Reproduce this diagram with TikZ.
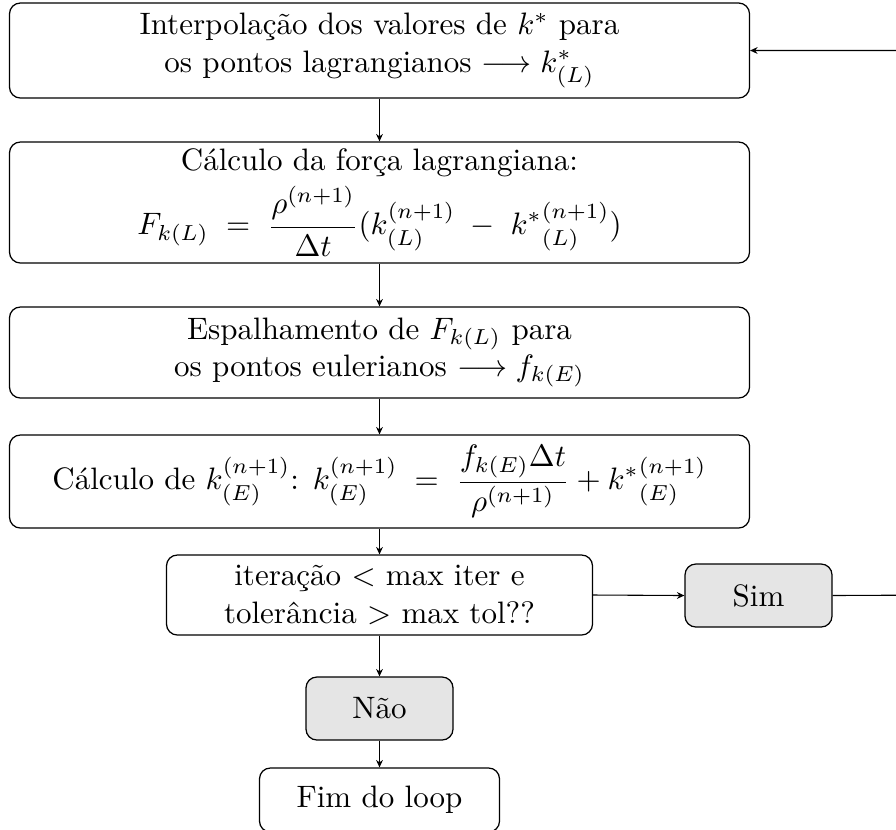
\documentclass[tikz,border=0pt]{standalone}
\usepackage{amsmath}
\usetikzlibrary{arrows.meta}
\def\pu{0.3226pt}
\begin{document}
\begin{tikzpicture}[x=0.3226pt,y=-0.3226pt,
 box/.style={draw, rounded corners=3.5pt, align=center, inner sep=0pt, line width=0.4pt},
 grey/.style={fill=gray!20},
 arr/.style={-{Stealth[length=2.4pt,width=2.2pt]}, line width=0.35pt}]
\useasboundingbox (0,0) rectangle (896,829);
\clip (0,0) rectangle (896,829);
\node[box, minimum width=740*\pu, minimum height=95*\pu] (b1) at (379.5,50.5)
  {Interpolação dos valores de $k^*$ para\\os pontos lagrangianos $\longrightarrow k^*_{(L)}$};
\node[box, minimum width=740*\pu, minimum height=121*\pu] (b2) at (379.5,202.5)
  {Cálculo da força lagrangiana:\\[2pt]
   $\displaystyle F_{k(L)}\;=\;\frac{\rho^{(n+1)}}{\Delta t}(k^{(n+1)}_{(L)}\;-\;{k^*}^{(n+1)}_{(L)})$\hspace{4pt}};
\node[box, minimum width=740*\pu, minimum height=91*\pu] (b3) at (379.5,352.5)
  {Espalhamento de $F_{k(L)}$ para\\os pontos eulerianos $\longrightarrow f_{k(E)}$};
\node[box, minimum width=740*\pu, minimum height=93*\pu] (b4) at (379.5,481.5)
  {Cálculo de $k^{(n+1)}_{(E)}$: $\displaystyle k^{(n+1)}_{(E)}\;=\;\frac{f_{k(E)}\Delta t}{\rho^{(n+1)}}+{k^*}^{(n+1)}_{(E)}$};
\node[box, minimum width=426*\pu, minimum height=80*\pu] (dec) at (379.5,595)
  {iteração $<$ max iter e\\tolerância $>$ max tol??};
\node[box, grey, minimum width=147*\pu, minimum height=63*\pu] (sim) at (758.5,595.5) {Sim};
\node[box, grey, minimum width=147*\pu, minimum height=63*\pu] (nao) at (379.5,708.5) {Não};
\node[box, minimum width=240*\pu, minimum height=64*\pu] (fim) at (379.5,800) {Fim do loop};
\draw[arr] (b1.south) -- (b2.north);
\draw[arr] (b2.south) -- (b3.north);
\draw[arr] (b3.south) -- (b4.north);
\draw[arr] (b4.south) -- (dec.north);
\draw[arr] (dec.south) -- (nao.north);
\draw[arr] (nao.south) -- (fim.north);
\draw[arr] (dec.east) -- (sim.west);
\coordinate (rc) at (940,595);
\draw[arr] (sim.east) -- (rc) |- (b1.east);
\end{tikzpicture}
\end{document}
